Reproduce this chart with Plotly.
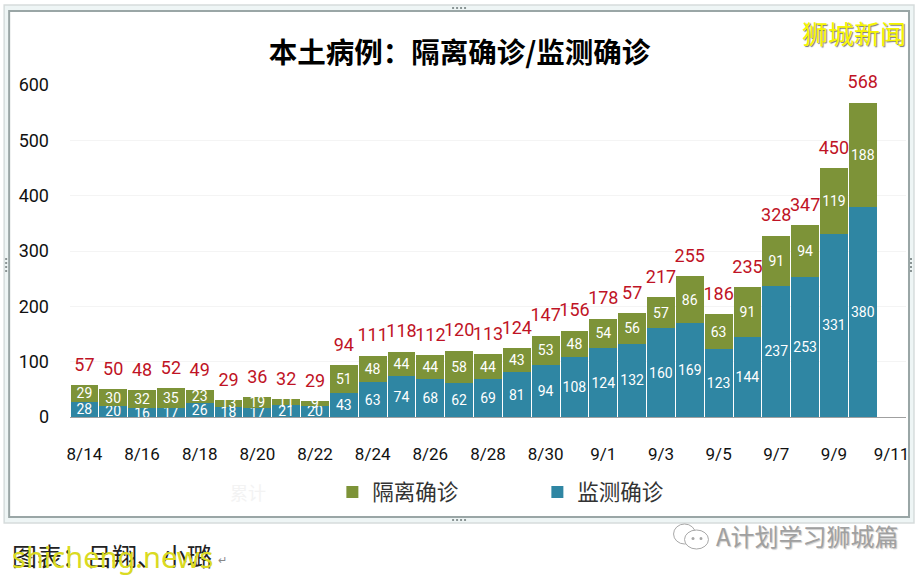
import plotly.graph_objects as go

W, H = 921, 576
ML, MR, MT, MB = 70, 13, 85, 159

dates = ["8/14","8/15","8/16","8/17","8/18","8/19","8/20","8/21","8/22","8/23","8/24","8/25","8/26","8/27","8/28",
         "8/29","8/30","8/31","9/1","9/2","9/3","9/4","9/5","9/6","9/7","9/8","9/9","9/10","9/11"]
tick_dates = ["8/14","8/16","8/18","8/20","8/22","8/24","8/26","8/28","8/30","9/1","9/3","9/5","9/7","9/9","9/11"]
monitored = [28,20,16,17,26,18,17,21,20,43,63,74,68,62,69,81,94,108,124,132,160,169,123,144,237,253,331,380,None]
isolated = [29,30,32,35,23,13,19,11,9,51,48,44,44,58,44,43,53,48,54,56,57,86,63,91,91,94,119,188,None]
total_labels = ["57","50","48","52","49","29","36","32","29","94","111","118","112","120","113","124","147","156",
                "178","57","217","255","186","235","328","347","450","568",""]
bar_tops = [None if a is None else a + b for a, b in zip(monitored, isolated)]

NARROW = "Roboto, sans-serif"
CJK = "Noto Sans CJK SC"
BLUE, GREEN, RED = "#2f86a3", "#7d9338", "#bf1325"


def px(x):
    return (x - ML) / (W - ML - MR)


def py(y):
    return (H - MB - y) / (H - MT - MB)


def rect(x0, y0, x1, y1, line=None, fill=None, width=1, kind="rect", layer="below"):
    return dict(type=kind, xref="paper", yref="paper", x0=px(x0), x1=px(x1), y0=py(y1), y1=py(y0),
                line=dict(color=line or "rgba(0,0,0,0)", width=width), fillcolor=fill or "rgba(0,0,0,0)", layer=layer)


def note(x, y, text, size, color, family=CJK, anchor="left", weight=None, shadow=None):
    font = dict(size=size, color=color, family=family)
    if weight:
        font["weight"] = weight
    if shadow:
        font["shadow"] = shadow
    return dict(xref="paper", yref="paper", x=px(x), y=py(y), text=text, showarrow=False, font=font,
                xanchor=anchor, yanchor="middle")


fig = go.Figure()
fig.add_bar(x=dates, y=monitored, name="监测确诊", marker=dict(color=BLUE, line_width=0), text=monitored,
            textposition="inside", insidetextanchor="middle", textangle=0, constraintext="none",
            insidetextfont=dict(color="white", size=14, family=NARROW))
fig.add_bar(x=dates, y=isolated, name="隔离确诊", marker=dict(color=GREEN, line_width=0), text=isolated,
            textposition="inside", insidetextanchor="middle", textangle=0, constraintext="none",
            insidetextfont=dict(color="white", size=14, family=NARROW))
fig.add_scatter(x=dates, y=bar_tops, mode="markers+text", text=total_labels, textposition="top center",
                marker=dict(size=14, opacity=0), textfont=dict(color=RED, size=18, family=NARROW),
                showlegend=False, cliponaxis=False, hoverinfo="skip")

shapes = [
    rect(4, 5, 916, 523, line="#d6dcdc", fill="#eef5f5", width=1.5),
    rect(9, 11, 911, 517, line="#9aa6a6", fill="white", width=2),
]
for cx, cy in [(453, 8), (457, 8), (461, 8), (465, 8), (453, 520), (457, 520), (461, 520), (465, 520)]:
    shapes.append(rect(cx, cy - 1, cx + 2, cy + 1, fill="#8a9494"))
for cx, cy in [(6, 258), (6, 262), (6, 266), (6, 270), (913, 258), (913, 262), (913, 266), (913, 270)]:
    shapes.append(rect(cx - 1, cy, cx + 1, cy + 2, fill="#8a9494"))
# WeChat-style logo next to the account name
shapes.append(rect(675, 524, 697, 544, line="#a8a8a8", fill="white", width=1, kind="circle", layer="above"))
shapes.append(rect(686, 530, 710, 549, line="#a8a8a8", fill="white", width=1, kind="circle", layer="above"))
shapes.append(rect(693, 537, 696, 540, fill="#a8a8a8", kind="circle", layer="above"))
shapes.append(rect(701, 537, 704, 540, fill="#a8a8a8", kind="circle", layer="above"))

annotations = [
    note(802, 32, "狮城新闻", 26, "#f6f600", shadow="1px 1px 1px #777"),
    note(228, 492, "累计", 18, "#f3f3f3"),
    note(10, 555, "图表：吕翔、小璐", 25, "#222222"),
    note(216, 559, "↵", 11, "#888888"),
    note(10, 556, "shicheng.news", 29, "#dada22", family="Noto Sans, sans-serif"),
    note(716, 535, "A计划学习狮城篇", 24, "#a0a0a0", shadow="1px 1px 1px #ccc"),
]

fig.update_layout(
    width=W, height=H, autosize=False, barmode="stack", bargap=0.035,
    margin=dict(l=ML, r=MR, t=MT, b=MB, pad=0), paper_bgcolor="white", plot_bgcolor="rgba(0,0,0,0)",
    title=dict(text="本土病例：隔离确诊/监测确诊", x=459.5 / W, xanchor="center", y=1 - 53 / H, yanchor="middle",
               font=dict(family=CJK, size=28.5, color="#000000", weight="bold")),
    xaxis=dict(type="category", categoryorder="array", categoryarray=dates, range=[-0.5, 28.5], tickmode="array",
               tickvals=tick_dates, ticktext=tick_dates, showgrid=False, ticks="", showline=True, linecolor="#a0a0a0",
               linewidth=1, ticklabelstandoff=22, tickfont=dict(family=NARROW, size=17, color="#111111")),
    yaxis=dict(range=[0, 600], tickmode="array", tickvals=[0, 100, 200, 300, 400, 500, 600], gridcolor="#f4f4f4",
               gridwidth=1, zeroline=False, ticks="", ticklabelstandoff=20,
               tickfont=dict(family=NARROW, size=18, color="#111111")),
    legend=dict(orientation="h", x=px(333), y=py(492), xanchor="left", yanchor="middle", traceorder="reversed",
                entrywidth=160, entrywidthmode="pixels", bgcolor="rgba(0,0,0,0)",
                font=dict(family=CJK, size=21.5, color="#333333")),
    shapes=shapes, annotations=annotations, showlegend=True,
)
fig.write_html("out.html", config={"displayModeBar": False}, post_script="document.body.style.margin='0';")
